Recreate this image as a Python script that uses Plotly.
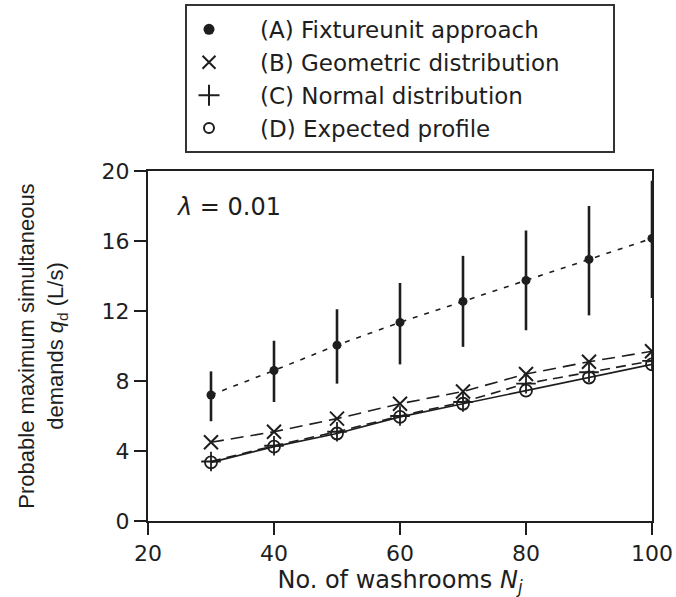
import plotly.graph_objects as go

# ---- data ----
washrooms = [30, 40, 50, 60, 70, 80, 90, 100]
fixture_unit = [7.2, 8.6, 10.05, 11.35, 12.55, 13.75, 14.95, 16.15]
fixture_err_plus = [1.35, 1.7, 2.05, 2.25, 2.6, 2.85, 3.05, 3.3]
fixture_err_minus = [1.5, 1.8, 2.2, 2.4, 2.6, 2.85, 3.2, 3.4]
geometric = [4.5, 5.1, 5.85, 6.7, 7.4, 8.4, 9.1, 9.7]
normal = [3.4, 4.3, 5.1, 6.0, 6.8, 7.85, 8.5, 9.15]
expected = [3.35, 4.25, 5.0, 5.95, 6.7, 7.45, 8.2, 8.95]

names = ["(A) Fixtureunit approach", "(B) Geometric distribution",
         "(C) Normal distribution", "(D) Expected profile"]

x_ticks = [20, 40, 60, 80, 100]
y_ticks = [0, 4, 8, 12, 16, 20]

INK = "#1e1e1e"
FONT = "DejaVu Sans"

fig = go.Figure()

# series A with error bars
fig.add_trace(go.Scatter(
    x=washrooms, y=fixture_unit, mode="lines+markers", showlegend=False,
    line=dict(color=INK, width=1.6, dash="5px,7px"),
    marker=dict(symbol="circle", size=9, color=INK),
    error_y=dict(type="data", symmetric=False, array=fixture_err_plus,
                 arrayminus=fixture_err_minus, width=0, thickness=2.6, color=INK),
))
fig.add_trace(go.Scatter(
    x=washrooms, y=geometric, mode="lines+markers", showlegend=False,
    line=dict(color=INK, width=1.6, dash="13px,7px"),
    marker=dict(symbol="x-thin", size=14, line=dict(color=INK, width=2)),
))
fig.add_trace(go.Scatter(
    x=washrooms, y=normal, mode="lines+markers", showlegend=False,
    line=dict(color=INK, width=1.6, dash="10px,6px"),
    marker=dict(symbol="cross-thin", size=14, line=dict(color=INK, width=1.8)),
))
fig.add_trace(go.Scatter(
    x=washrooms, y=expected, mode="lines+markers", showlegend=False,
    line=dict(color=INK, width=1.6),
    marker=dict(symbol="circle-open", size=12, color=INK, line=dict(color=INK, width=1.8)),
))

# legend entries (markers only)
legend_markers = [
    dict(symbol="circle", size=11, color=INK),
    dict(symbol="x-thin", size=13, line=dict(color=INK, width=2)),
    dict(symbol="cross-thin", size=15, line=dict(color=INK, width=2)),
    dict(symbol="circle-open", size=10, color=INK, line=dict(color=INK, width=2)),
]
for nm, mk in zip(names, legend_markers):
    fig.add_trace(go.Scatter(x=[None], y=[None], mode="markers", name=nm, marker=mk))

fig.add_annotation(
    x=0.16, y=0.897, xref="paper", yref="paper", xanchor="center", yanchor="middle",
    showarrow=False, text="<i>λ</i> = 0.01", font=dict(family=FONT, size=24, color=INK),
)

# legend frame
fig.add_shape(
    type="rect", xref="paper", yref="paper",
    x0=(186 - 148) / 504, x1=(614 - 148) / 504,
    y0=(521 - 152) / 350, y1=(521 - 5) / 350,
    line=dict(color="#333333", width=2), fillcolor="rgba(0,0,0,0)", layer="above",
)

fig.update_layout(
    width=676, height=597,
    margin=dict(l=148, r=24, t=171, b=76, autoexpand=False),
    paper_bgcolor="white", plot_bgcolor="white",
    font=dict(family=FONT, size=22, color=INK),
    legend=dict(
        x=(158 - 148) / 504, y=1.466, xanchor="left", yanchor="top",
        borderwidth=0, bgcolor="rgba(0,0,0,0)",
        itemwidth=92, font=dict(family=FONT, size=23, color=INK),
    ),
    xaxis=dict(
        range=[20, 100], tickvals=x_ticks, ticks="outside", ticklen=12, tickwidth=2,
        tickcolor=INK, showline=True, linecolor=INK, linewidth=2, mirror=True,
        showgrid=False, zeroline=False, automargin=False,
        tickfont=dict(family=FONT, size=22, color=INK),
        title=dict(text="No. of washrooms <i>N</i><sub><i>j</i></sub>",
                   font=dict(family=FONT, size=24, color=INK), standoff=4),
    ),
    yaxis=dict(
        range=[0, 20], tickvals=y_ticks, ticks="outside", ticklen=12, tickwidth=2,
        tickcolor=INK, showline=True, linecolor=INK, linewidth=2, mirror=True,
        showgrid=False, zeroline=False, automargin=False,
        tickfont=dict(family=FONT, size=22, color=INK),
        title=dict(text="Probable maximum simultaneous<br>demands <i>q</i><sub>d</sub> (L/s)",
                   font=dict(family="Liberation Sans", size=22, color=INK), standoff=32),
    ),
)

fig.write_html("out.html")
